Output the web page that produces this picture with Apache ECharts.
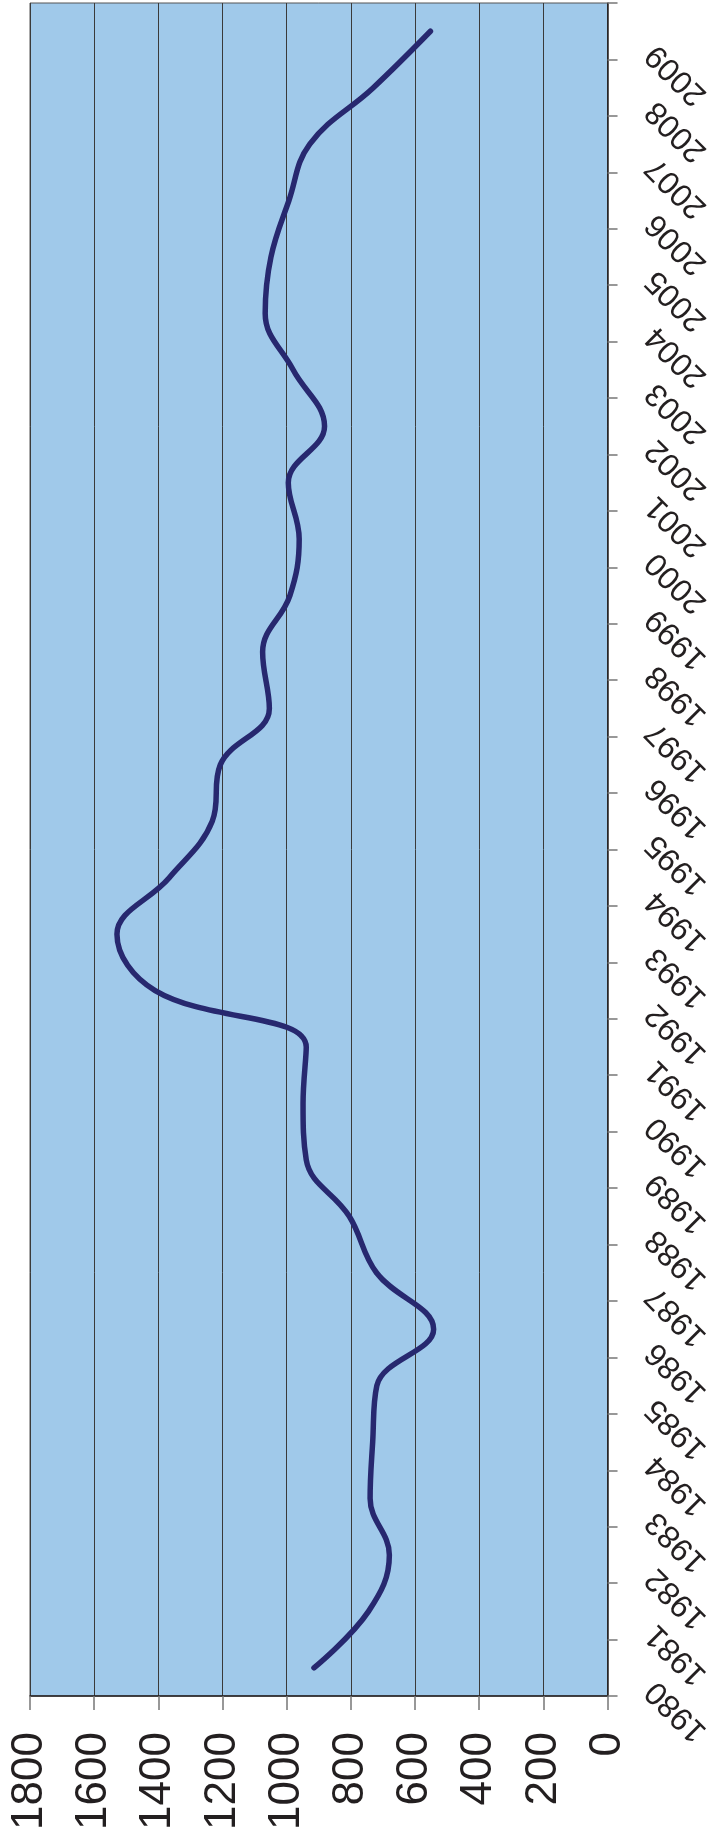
<!DOCTYPE html>
<html>
<head>
<meta charset="utf-8">
<script src="https://cdn.jsdelivr.net/npm/echarts@6/dist/echarts.min.js"></script>
<style>
html,body{margin:0;padding:0;background:#fff;}
#chart{width:722px;height:1839px;}
</style>
</head>
<body>
<div id="chart"></div>
<script>
const years = ['1980','1981','1982','1983','1984','1985','1986','1987','1988','1989',
  '1990','1991','1992','1993','1994','1995','1996','1997','1998','1999',
  '2000','2001','2002','2003','2004','2005','2006','2007','2008','2009'];
const values = [915, 745, 680, 740, 732, 719, 542, 720, 805, 939,
  949, 939, 1410, 1529, 1366, 1232, 1207, 1054, 1075, 990,
  961, 995, 882, 980, 1067, 1049, 993, 928, 730, 552];
const valueMin = 0, valueMax = 1800, valueStep = 200;

const chart = echarts.init(document.getElementById('chart'), null, {renderer: 'canvas'});
chart.setOption({
  animation: false,
  backgroundColor: '#ffffff',
  grid: {
    left: 30, right: 110, top: 3, bottom: 143,
    show: true, backgroundColor: '#A0C9EA', borderColor: '#555555', borderWidth: 1
  },
  xAxis: {
    type: 'value', position: 'bottom', inverse: true,
    min: valueMin, max: valueMax, interval: valueStep,
    axisLine: {show: true, lineStyle: {color: '#231f20', width: 1.5}},
    axisTick: {show: true, length: 14, lineStyle: {color: '#777777', width: 1.5}},
    splitLine: {show: true, lineStyle: {color: '#3a3a3a', width: 1}},
    axisLabel: {
      rotate: 90, margin: 36, fontSize: 44, color: '#231f20',
      fontFamily: 'Liberation Sans, Arial, sans-serif',
      formatter: function (v) { return String(v); }
    }
  },
  yAxis: {
    type: 'category', position: 'right', data: years, boundaryGap: true,
    axisLine: {show: true, lineStyle: {color: '#231f20', width: 1.5}},
    axisTick: {show: true, length: 10, lineStyle: {color: '#777777', width: 1.5}},
    splitLine: {show: false},
    axisLabel: {
      rotate: 135, margin: 62, fontSize: 32, color: '#231f20',
      align: 'right', verticalAlign: 'bottom', lineHeight: 52,
      fontFamily: 'Liberation Sans, Arial, sans-serif', interval: 0
    }
  },
  series: [{
    type: 'line', data: values, smooth: 0.4, showSymbol: false, symbol: 'none',
    lineStyle: {color: '#27286F', width: 5.5, cap: 'round'}
  }]
});
</script>
</body>
</html>
